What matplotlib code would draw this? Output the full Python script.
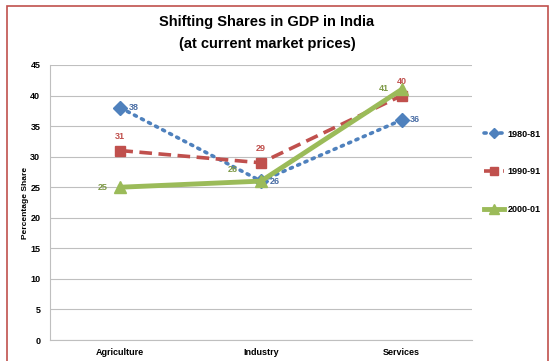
import matplotlib
matplotlib.use("Agg")
import matplotlib.pyplot as plt
from matplotlib.patches import Rectangle

categories = ["Agriculture", "Industry", "Services"]
series_names = ["1980-81", "1990-91", "2000-01"]
s1980 = [38, 26, 36]
s1990 = [31, 29, 40]
s2000 = [25, 26, 41]
yticks = [0, 5, 10, 15, 20, 25, 30, 35, 40, 45]

plt.rcParams['font.family'] = ['Liberation Sans', 'DejaVu Sans']

fig = plt.figure(figsize=(5.53, 3.61), dpi=100)
fig.patch.set_facecolor('white')
# outer frame
fig.patches.append(Rectangle((7/553, -0.02), 541/553, 1 - 6/361 + 0.02, transform=fig.transFigure,
                             fill=False, edgecolor='#c0504d', linewidth=1.2))

ax = fig.add_axes([50/553, 1 - 340/361, 422/553, 275/361])
x = list(range(len(categories)))

blue, red, green = '#4f81bd', '#c0504d', '#9bbb59'
ax.plot(x, s1980, color=blue, linestyle=(0, (0.6, 1.6)), dash_capstyle='round', linewidth=2.6,
        marker='D', markersize=7, label=series_names[0], zorder=3)
ax.plot(x, s1990, color=red, linestyle=(0, (3.5, 1.8)), linewidth=2.6,
        marker='s', markersize=7, label=series_names[1], zorder=3)
ax.plot(x, s2000, color=green, linestyle='-', linewidth=3.5,
        marker='^', markersize=9, label=series_names[2], zorder=4)

fs = 6.5
for xi, v in zip(x, s1980):
    ax.annotate(str(v), (xi, v), xytext=(6, 0), textcoords='offset points', ha='left', va='center',
                fontsize=fs, fontweight='bold', color='#4a6ea5')
for xi, v in zip(x, s1990):
    ax.annotate(str(v), (xi, v), xytext=(0, 10), textcoords='offset points', ha='center', va='center',
                fontsize=fs, fontweight='bold', color='#c0504d')
green_offsets = [(-9, 0), (-17, 8), (-9, 1)]
for xi, v, off in zip(x, s2000, green_offsets):
    ax.annotate(str(v), (xi, v), xytext=off, textcoords='offset points', ha='right', va='center',
                fontsize=fs, fontweight='bold', color='#7f9a48')

ax.set_xlim(-0.5, 2.5)
ax.set_ylim(0, 45)
ax.set_yticks(yticks)
ax.set_yticklabels([str(t) for t in yticks], fontsize=6.5, fontweight='bold')
ax.set_xticks(x)
ax.set_xticklabels(categories, fontsize=6.5, fontweight='bold')
ax.tick_params(axis='both', length=0)
ax.tick_params(axis='y', pad=7)
ax.tick_params(axis='x', pad=6)
ax.grid(axis='y', color='#bfbfbf', linewidth=0.8)
ax.set_axisbelow(True)
for side in ['top', 'right']:
    ax.spines[side].set_visible(False)
ax.spines['left'].set_color('#bfbfbf')
ax.spines['bottom'].set_color('#bfbfbf')
ax.set_ylabel('Percentage Share', fontsize=6, fontweight='bold')
ax.yaxis.set_label_coords(-0.05, 0.5)

fig.text(267/553, 1 - 22/361, 'Shifting Shares in GDP in India', ha='center', va='center',
         fontsize=10.5, fontweight='bold')
fig.text(267/553, 1 - 44/361, '(at current market prices)', ha='center', va='center',
         fontsize=10.5, fontweight='bold')

leg = fig.legend(loc='center left', bbox_to_anchor=(476/553, 1 - 172/361), frameon=False,
                 prop={'weight': 'bold', 'size': 6.5}, labelspacing=3.2,
                 handlelength=2.2, handletextpad=0.4, markerscale=0.8)

fig.savefig('out.png', dpi=100)
